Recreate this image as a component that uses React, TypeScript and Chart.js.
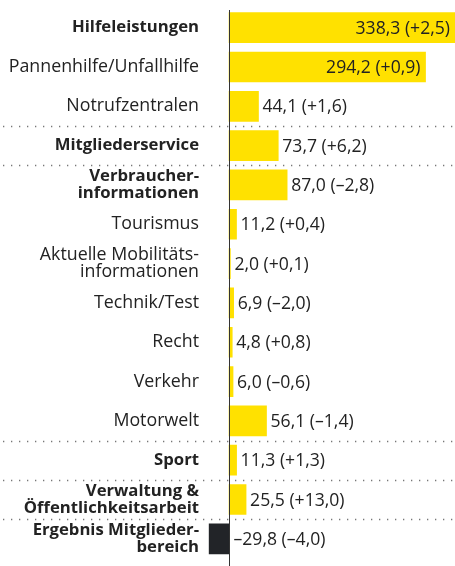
import React, { useEffect, useRef } from "react";
import { Chart, registerables } from "chart.js";

Chart.register(...registerables);

const categories: (string | string[])[] = [
  "Hilfeleistungen",
  "Pannenhilfe/Unfallhilfe",
  "Notrufzentralen",
  "Mitgliederservice",
  ["Verbraucher-", "informationen"],
  "Tourismus",
  ["Aktuelle Mobilitäts-", "informationen"],
  "Technik/Test",
  "Recht",
  "Verkehr",
  "Motorwelt",
  "Sport",
  ["Verwaltung &", "Öffentlichkeitsarbeit"],
  ["Ergebnis Mitglieder-", "bereich"],
];
const values = [338.3, 294.2, 44.1, 73.7, 87.0, 11.2, 2.0, 6.9, 4.8, 6.0, 56.1, 11.3, 25.5, -29.8];
const changes = [2.5, 0.9, 1.6, 6.2, -2.8, 0.4, 0.1, -2.0, 0.8, -0.6, -1.4, 1.3, 13.0, -4.0];
const boldRows = [true, false, false, true, true, false, false, false, false, false, false, true, true, true];
const separatorsAfter = [2, 3, 10, 11, 12];
const axisMin = -36;
const axisMax = 338.3;

const YELLOW = "#FFE100";
const DARK = "#222428";
const TEXT = "#222222";
const FONT = "'Open Sans'";

const fmtNum = (v: number) => (v < 0 ? "–" : "") + Math.abs(v).toFixed(1).replace(".", ",");
const fmtChange = (v: number) => (v < 0 ? "–" : "+") + Math.abs(v).toFixed(1).replace(".", ",");

const overlay = {
  id: "overlay",
  afterDatasetsDraw(chart: any) {
    const { ctx, chartArea, scales } = chart;
    const x = scales.x;
    const y = scales.y;
    ctx.save();
    ctx.strokeStyle = "#777";
    ctx.lineWidth = 1.3;
    ctx.setLineDash([1.3, 6.7]);
    separatorsAfter.forEach((i) => {
      const yy = Math.round((y.getPixelForValue(i) + y.getPixelForValue(i + 1)) / 2) + 0.5;
      ctx.beginPath();
      ctx.moveTo(3, yy);
      ctx.lineTo(chart.width, yy);
      ctx.stroke();
    });
    ctx.setLineDash([]);
    const x0 = Math.round(x.getPixelForValue(0)) + 0.5;
    ctx.strokeStyle = "#333";
    ctx.lineWidth = 1;
    ctx.beginPath();
    ctx.moveTo(x0, 10);
    ctx.lineTo(x0, chart.height);
    ctx.stroke();
    ctx.font = `17.6px ${FONT}`;
    ctx.fillStyle = TEXT;
    ctx.textBaseline = "middle";
    const meta = chart.getDatasetMeta(0);
    meta.data.forEach((bar: any, i: number) => {
      const txt = `${fmtNum(values[i])} (${fmtChange(changes[i])})`;
      const w = ctx.measureText(txt).width;
      const v = values[i];
      if (v >= 0) {
        const end = bar.x;
        if (end + 4 + w > chartArea.right) {
          ctx.textAlign = "right";
          ctx.fillText(txt, end - 5, bar.y + 1);
        } else {
          ctx.textAlign = "left";
          ctx.fillText(txt, end + 4, bar.y + 1);
        }
      } else {
        ctx.textAlign = "left";
        ctx.fillText(txt, x0 + 4, bar.y + 1);
      }
    });
    ctx.restore();
  },
};

export default function App() {
  const ref = useRef<HTMLCanvasElement | null>(null);
  useEffect(() => {
    if (!ref.current) return;
    const chart = new Chart(ref.current, {
      type: "bar",
      data: {
        labels: categories,
        datasets: [
          {
            data: values,
            backgroundColor: values.map((v) => (v < 0 ? DARK : YELLOW)),
            borderWidth: 0,
            barThickness: 30,
          },
        ],
      },
      options: {
        indexAxis: "y",
        animation: false,
        responsive: true,
        maintainAspectRatio: false,
        layout: { padding: { top: 8, bottom: 7.5, left: 0, right: 0 } },
        plugins: { legend: { display: false }, tooltip: { enabled: false } },
        scales: {
          x: {
            display: false,
            min: axisMin,
            max: axisMax,
          },
          y: {
            afterFit: (scale: any) => {
              scale.width = 205;
              scale.paddingTop = 0;
              scale.paddingBottom = 0;
            },
            grid: { display: false, drawTicks: false },
            border: { display: false },
            ticks: {
              padding: 6,
              color: TEXT,
              autoSkip: false,
              font: (ctx: any) =>
                boldRows[ctx.index]
                  ? { family: FONT, size: 16.7, weight: "bold", lineHeight: 1.0 }
                  : { family: FONT, size: 17.8, weight: "normal", lineHeight: 0.94 },
            },
          },
        },
      },
      plugins: [overlay],
    });
    return () => chart.destroy();
  }, []);
  return (
    <div style={{ position: "absolute", left: 0, top: 0, width: 455, height: 566, background: "#fff" }}>
      <canvas ref={ref} />
    </div>
  );
}
